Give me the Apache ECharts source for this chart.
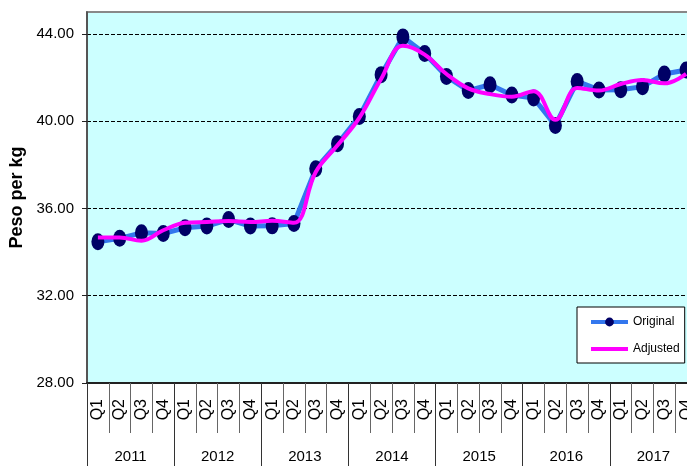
<!DOCTYPE html>
<html>
<head>
<meta charset="utf-8">
<script src="https://cdn.jsdelivr.net/npm/echarts@6/dist/echarts.min.js"></script>
<style>
html,body{margin:0;padding:0;background:#fff;}
#chart{width:687px;height:466px;}
</style>
</head>
<body>
<div id="chart"></div>
<script>
var quarters = ['Q1','Q2','Q3','Q4','Q1','Q2','Q3','Q4','Q1','Q2','Q3','Q4','Q1','Q2','Q3','Q4','Q1','Q2','Q3','Q4','Q1','Q2','Q3','Q4','Q1','Q2','Q3','Q4'];
var years = ['2011','2012','2013','2014','2015','2016','2017'];
var original = [34.47, 34.63, 34.88, 34.85, 35.11, 35.19, 35.49, 35.19, 35.20, 35.31, 37.82, 38.96, 40.21, 42.13, 43.86, 43.10, 42.05, 41.40, 41.67, 41.20, 41.06, 39.80, 41.82, 41.43, 41.44, 41.58, 42.16, 42.34];
var adjusted = [34.67, 34.67, 34.52, 35.00, 35.34, 35.38, 35.42, 35.38, 35.43, 35.34, 37.67, 38.89, 40.15, 41.93, 43.45, 43.05, 42.16, 41.50, 41.24, 41.12, 41.37, 40.06, 41.52, 41.40, 41.70, 41.88, 41.73, 42.16];
var yTicks = [28, 32, 36, 40, 44];

var regular = "'Liberation Sans', Arial, sans-serif";

var chart = echarts.init(document.getElementById('chart'));
chart.setOption({
  animation: false,
  grid: {
    left: 87, top: 12, width: 610, height: 371,
    outerBoundsMode: 'none', containLabel: false,
    show: true, backgroundColor: '#ccffff', borderColor: '#888', borderWidth: 2
  },
  legend: {
    orient: 'vertical',
    left: 577, top: 307,
    backgroundColor: '#fff', borderColor: '#000', borderWidth: 1,
    padding: [9, 5, 8, 12],
    itemWidth: 37, itemHeight: 11, itemGap: 15,
    textStyle: { fontFamily: regular, fontSize: 12, color: '#000' },
    data: [
      { name: 'Original', lineStyle: { width: 4 } },
      { name: 'Adjusted', lineStyle: { width: 4 }, itemStyle: { opacity: 0 } }
    ]
  },
  xAxis: [
    {
      type: 'category', position: 'bottom', data: quarters, boundaryGap: true,
      axisLine: { show: true, lineStyle: { color: '#222', width: 2 } },
      axisTick: { show: true, interval: 0, length: 50, lineStyle: { color: '#666', width: 1 } },
      axisLabel: { interval: 0, rotate: 90, margin: 16, fontFamily: regular, fontSize: 16, color: '#000' },
      splitLine: { show: false }
    },
    {
      type: 'category', position: 'bottom', data: years, boundaryGap: true, offset: 0,
      axisLine: { show: false },
      axisTick: { show: true, interval: 0, length: 90, lineStyle: { color: '#333', width: 1 } },
      axisLabel: { interval: 0, margin: 66, fontFamily: regular, fontSize: 15, color: '#000' },
      splitLine: { show: false }
    }
  ],
  yAxis: {
    type: 'value', min: 28, max: 45,
    name: 'Peso per kg', nameLocation: 'middle', nameGap: 60,
    nameTextStyle: { fontFamily: regular, fontSize: 18, fontWeight: 'bold', color: '#000' },
    axisLine: { show: true, lineStyle: { color: '#444', width: 1.5 } },
    axisTick: { show: true, inside: false, length: 5, customValues: yTicks, lineStyle: { color: '#222' } },
    axisLabel: {
      customValues: yTicks, margin: 13, fontFamily: regular, fontSize: 15, color: '#000',
      formatter: function (v) { return v.toFixed(2); }
    },
    splitLine: { show: true, lineStyle: { color: '#000', type: [4, 2], width: 1 } }
  },
  series: [
    {
      name: 'Original', type: 'line', xAxisIndex: 0, data: original,
      symbol: 'circle', symbolSize: [13, 17],
      lineStyle: { color: '#3377ee', width: 5 },
      itemStyle: { color: '#000066' },
      z: 2
    },
    {
      name: 'Adjusted', type: 'line', xAxisIndex: 0, data: adjusted,
      symbol: 'none', smooth: 0.4,
      lineStyle: { color: '#ff00ff', width: 4 },
      itemStyle: { color: '#ff00ff' },
      z: 3
    }
  ]
});
</script>
</body>
</html>
